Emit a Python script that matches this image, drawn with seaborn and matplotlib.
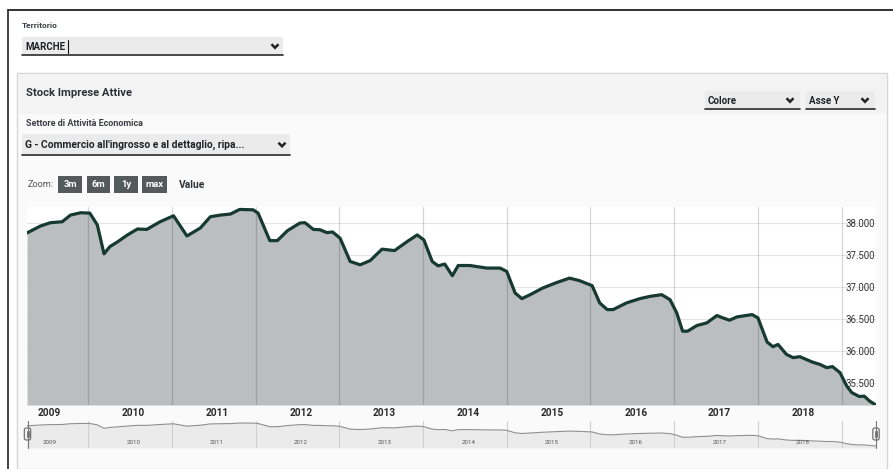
import numpy as np
import pandas as pd
import matplotlib
matplotlib.use("Agg")
import matplotlib.pyplot as plt
from matplotlib.patches import Rectangle, FancyBboxPatch
from matplotlib.ticker import FuncFormatter
import seaborn as sns

# Stock imprese attive - Marche, settore G
anni = [2009.27, 2009.43, 2009.55, 2009.69, 2009.79, 2009.91, 2010.02, 2010.11, 2010.19, 2010.26,
        2010.35, 2010.47, 2010.59, 2010.70, 2010.86, 2011.02, 2011.18, 2011.34, 2011.46, 2011.58,
        2011.70, 2011.81, 2011.97, 2012.03, 2012.17, 2012.26, 2012.38, 2012.53, 2012.59, 2012.69,
        2012.77, 2012.85, 2012.92, 2013.01, 2013.13, 2013.25, 2013.37, 2013.51, 2013.66, 2013.81,
        2013.93, 2014.01, 2014.11, 2014.18, 2014.26, 2014.35, 2014.42, 2014.56, 2014.76, 2014.92,
        2015.00, 2015.10, 2015.18, 2015.28, 2015.43, 2015.60, 2015.75, 2015.87, 2016.02, 2016.11,
        2016.20, 2016.27, 2016.43, 2016.59, 2016.71, 2016.85, 2016.95, 2017.03, 2017.10, 2017.16,
        2017.27, 2017.39, 2017.51, 2017.58, 2017.66, 2017.75, 2017.93, 2018.00, 2018.11, 2018.18,
        2018.24, 2018.34, 2018.42, 2018.50, 2018.65, 2018.74, 2018.82, 2018.89, 2018.98, 2019.06,
        2019.12, 2019.21, 2019.27, 2019.33, 2019.41]
imprese = [37845, 37953, 38005, 38020, 38124, 38160, 38155, 37969, 37519, 37632,
           37705, 37814, 37907, 37900, 38020, 38113, 37798, 37922, 38098, 38124,
           38140, 38212, 38206, 38155, 37725, 37725, 37880, 38000, 38005, 37900,
           37895, 37850, 37860, 37762, 37400, 37348, 37415, 37592, 37570, 37710,
           37814, 37736, 37400, 37332, 37359, 37177, 37337, 37337, 37297, 37297,
           37244, 36908, 36820, 36882, 36986, 37073, 37140, 37100, 37022, 36753,
           36649, 36649, 36753, 36820, 36855, 36882, 36804, 36598, 36312, 36312,
           36400, 36442, 36556, 36520, 36483, 36535, 36571, 36520, 36141, 36070,
           36105, 35950, 35899, 35914, 35830, 35794, 35743, 35759, 35665, 35457,
           35354, 35293, 35298, 35225, 35158]
etichette_anni = [2009, 2010, 2011, 2012, 2013, 2014, 2015, 2016, 2017, 2018]
confini_anni = [2010, 2011, 2012, 2013, 2014, 2015, 2016, 2017, 2018, 2019]
tick_y = [35500, 36000, 36500, 37000, 37500, 38000]
bottoni_zoom = ["3m", "6m", "1y", "max"]

df = pd.DataFrame({"anno": anni, "imprese": imprese})

sns.set_style("white")
plt.rcParams["font.family"] = ["Roboto", "DejaVu Sans"]

W, H = 893, 469
fig = plt.figure(figsize=(W / 100, H / 100), dpi=100)

def box(x0, y0, x1, y1):
    return [x0 / W, 1 - y1 / H, (x1 - x0) / W, (y1 - y0) / H]

# ---- page / UI background (pixel coordinates) ----
bg = fig.add_axes([0, 0, 1, 1])
bg.set_xlim(0, W)
bg.set_ylim(H, 0)
bg.axis("off")

TXT = "#2e3338"
bg.plot([8, W], [10, 10], color="#222", lw=1.3)
bg.plot([8, 8], [10, H], color="#333", lw=1.3)

def chevron(x, y):
    bg.plot([x - 3.5, x, x + 3.5], [y - 1.8, y + 1.8, y - 1.8], color="#222", lw=1.8,
            solid_capstyle="butt", solid_joinstyle="miter")

def dropdown(x0, y0, x1, y1, text, size, chev_x):
    bg.add_patch(Rectangle((x0, y0), x1 - x0, y1 - y0, fc="#ebebeb", ec="none"))
    bg.plot([x0, x1], [y1, y1], color="#2a2a2a", lw=1.2)
    bg.text(x0 + 3, (y0 + y1) / 2 + 0.5, text, fontsize=size, fontweight="bold",
            color="#1f2326", va="center", ha="left")
    chevron(chev_x, (y0 + y1) / 2)

bg.text(22, 25, "Territorio", fontsize=6.0, fontweight="bold", color="#3b4045", va="center")
dropdown(22, 37, 283, 55, "MARCHE", 7.0, 275)
bg.plot([68, 68], [40, 53], color="#111", lw=0.8)

# pannello
bg.add_patch(Rectangle((17, 73), 870, H - 73, fc="#fafafa", ec="#d6d6d6", lw=1))
bg.add_patch(Rectangle((18, 74), 868, 40, fc="#f3f3f3", ec="none"))
bg.text(26, 93, "Stock Imprese Attive", fontsize=8.1, fontweight="bold", color=TXT, va="center")
bg.text(26, 124, "Settore di Attività Economica", fontsize=6.5, fontweight="bold",
        color="#3b4045", va="center")
dropdown(22, 134, 290, 155, "G - Commercio all'ingrosso e al dettaglio, ripa...", 7.4, 282)
dropdown(705, 91, 800, 109, "Colore", 7.0, 790)
dropdown(806, 91, 875, 109, "Asse Y", 7.0, 865)

bg.text(28, 184.5, "Zoom:", fontsize=6.6, color="#555", va="center")
for lab, x0, x1 in zip(bottoni_zoom, [58, 87, 114, 142], [82, 110, 138, 167]):
    bg.add_patch(Rectangle((x0, 176), x1 - x0, 17, fc="#545959", ec="none"))
    bg.text((x0 + x1) / 2, 184.5, lab, fontsize=6.8, fontweight="bold", color="white",
            ha="center", va="center")
bg.text(179, 184.5, "Value", fontsize=7.4, fontweight="bold", color=TXT, va="center")

# ---- grafico principale ----
ymin, ymax = 35160, 38250
ax = fig.add_axes(box(27, 207, 876, 405))
ax.set_facecolor("white")
ax.fill_between(df["anno"], df["imprese"], ymin, color="#bbbebe", lw=0, zorder=1)
for c in confini_anni:
    ax.axvline(c, color="black", alpha=0.16, lw=0.9, zorder=2)
sns.lineplot(data=df, x="anno", y="imprese", ax=ax, color="#163a2f", lw=2.3, sort=False, zorder=3)
ax.set_xlim(min(anni), max(anni))
ax.set_ylim(ymin, ymax)
ax.set_yticks(tick_y)
ax.grid(axis="y", color="#e4e4e4", lw=0.8, zorder=0)
ax.set_axisbelow(True)
ax.yaxis.tick_right()
ax.yaxis.set_major_formatter(FuncFormatter(lambda v, p: f"{int(v):,}".replace(",", ".")))
ax.tick_params(axis="y", length=0, pad=-22, labelsize=6.9, labelcolor="#333")
ax.set_xticks([a + 0.54 for a in etichette_anni])
ax.set_xticklabels([str(a) for a in etichette_anni])
ax.tick_params(axis="x", length=0, pad=2.5, labelsize=7.3, labelcolor="#2a2a2a")
for lab in ax.get_xticklabels():
    lab.set_fontweight("bold")
ax.set_xlabel("")
ax.set_ylabel("")
for s in ax.spines.values():
    s.set_visible(False)

# ---- navigatore ----
nav = fig.add_axes(box(27, 421, 876, 448))
nav.set_facecolor("none")
rng = max(imprese) - min(imprese)
nav_lo, nav_hi = min(imprese) - rng * 0.09, max(imprese) + rng * 0.09
nav.fill_between(df["anno"], df["imprese"], nav_lo, color="#ebebeb", lw=0, zorder=1)
for c in confini_anni:
    nav.axvline(c, color="#cfcfcf", lw=0.8, zorder=2)
sns.lineplot(data=df, x="anno", y="imprese", ax=nav, color="#8f8f8f", lw=0.8, sort=False, zorder=3)
nav.set_xlim(min(anni), max(anni))
nav.set_ylim(nav_lo, nav_hi)
for a in etichette_anni:
    nav.text(a + 0.54, nav_lo + (nav_hi - nav_lo) * 0.22, str(a), fontsize=4.4,
             color="#555", ha="center", va="center", zorder=4)
nav.set_xticks([])
nav.set_yticks([])
nav.set_xlabel("")
nav.set_ylabel("")
for s in nav.spines.values():
    s.set_visible(False)

# maniglie del navigatore
top = fig.add_axes([0, 0, 1, 1], zorder=10)
top.set_xlim(0, W)
top.set_ylim(H, 0)
top.axis("off")
top.patch.set_alpha(0)
for hx in [27.5, 876]:
    top.plot([hx, hx], [421, 448], color="#777", lw=0.8)
    top.add_patch(FancyBboxPatch((hx - 3.2, 428), 6.4, 12, boxstyle="round,pad=0,rounding_size=2",
                                 fc="#f2f2f2", ec="#666", lw=0.8))
    top.plot([hx - 1, hx - 1], [431, 437], color="#666", lw=0.6)
    top.plot([hx + 1, hx + 1], [431, 437], color="#666", lw=0.6)

fig.savefig("out.png", dpi=100)
